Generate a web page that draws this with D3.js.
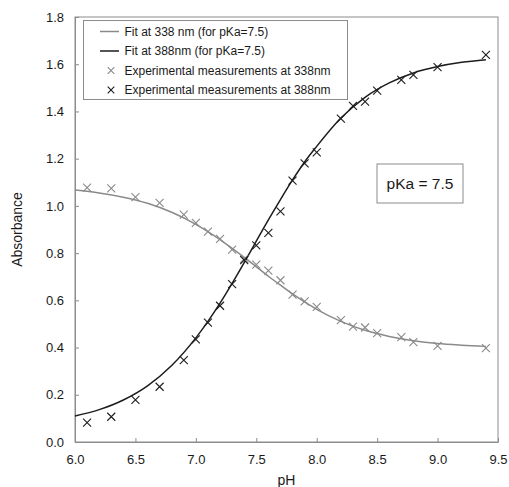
<!DOCTYPE html>
<html>
<head>
<meta charset="utf-8">
<script src="https://cdn.jsdelivr.net/npm/d3@7"></script>
<style>
  html, body { margin: 0; padding: 0; background: #fff; }
  svg { display: block; font-family: "Liberation Sans", Arial, sans-serif; }
</style>
</head>
<body>
<script>
// Measured absorbance vs pH
const phMeasured = [6.1, 6.3, 6.5, 6.7, 6.9, 7.0, 7.1, 7.2, 7.3, 7.4, 7.5, 7.6, 7.7, 7.8, 7.9, 8.0, 8.2, 8.3, 8.4, 8.5, 8.7, 8.8, 9.0, 9.4];
const abs338 = [1.077, 1.074, 1.037, 1.013, 0.963, 0.928, 0.891, 0.860, 0.815, 0.775, 0.751, 0.726, 0.685, 0.624, 0.596, 0.572, 0.516, 0.489, 0.485, 0.461, 0.444, 0.423, 0.407, 0.398];
const abs388 = [0.082, 0.107, 0.178, 0.234, 0.347, 0.435, 0.506, 0.577, 0.669, 0.770, 0.833, 0.886, 0.977, 1.107, 1.180, 1.227, 1.370, 1.424, 1.442, 1.488, 1.534, 1.555, 1.588, 1.640];

// Fitted titration curves (pKa = 7.5)
const phFit = [6.0, 6.2, 6.4, 6.6, 6.8, 7.0, 7.1, 7.2, 7.3, 7.4, 7.5, 7.6, 7.7, 7.8, 7.9, 8.0, 8.2, 8.4, 8.6, 8.8, 9.0, 9.2, 9.4];
const fit338 = [1.067, 1.055, 1.037, 1.011, 0.973, 0.922, 0.891, 0.857, 0.820, 0.782, 0.742, 0.702, 0.664, 0.627, 0.593, 0.562, 0.511, 0.473, 0.447, 0.429, 0.417, 0.410, 0.405];
const fit388 = [0.110, 0.137, 0.178, 0.238, 0.324, 0.441, 0.511, 0.588, 0.672, 0.760, 0.851, 0.941, 1.027, 1.110, 1.186, 1.252, 1.372, 1.460, 1.521, 1.563, 1.590, 1.608, 1.619];

const xTicks = [6.0, 6.5, 7.0, 7.5, 8.0, 8.5, 9.0, 9.5];
const yTicks = [0.0, 0.2, 0.4, 0.6, 0.8, 1.0, 1.2, 1.4, 1.6, 1.8];

const legendLabels = [
  "Fit at 338 nm (for pKa=7.5)",
  "Fit at 388nm (for pKa=7.5)",
  "Experimental measurements at 338nm",
  "Experimental measurements at 388nm"
];
const annotation = "pKa = 7.5";

const W = 509, H = 487;
const m = { left: 75, right: 11, top: 17, bottom: 45 };
const grey = "#8a8a8a", dark = "#1c1c1c", frame = "#8c8c8c";

const svg = d3.select("body").append("svg").attr("width", W).attr("height", H);

const x = d3.scaleLinear().domain([6.0, 9.5]).range([m.left, W - m.right]);
const y = d3.scaleLinear().domain([0, 1.8]).range([H - m.bottom, m.top]);

// plot frame
svg.append("rect")
  .attr("x", x(6.0)).attr("y", y(1.8))
  .attr("width", x(9.5) - x(6.0)).attr("height", y(0) - y(1.8))
  .attr("fill", "none").attr("stroke", frame).attr("stroke-width", 1);

// axes with inward ticks
const xAxis = svg.append("g")
  .attr("transform", `translate(0,${y(0)})`)
  .call(d3.axisBottom(x).tickValues(xTicks).tickFormat(d3.format(".1f")).tickSizeInner(-4).tickSizeOuter(0).tickPadding(13));
const yAxis = svg.append("g")
  .attr("transform", `translate(${x(6.0)},0)`)
  .call(d3.axisLeft(y).tickValues(yTicks).tickFormat(d3.format(".1f")).tickSizeInner(-4).tickSizeOuter(0).tickPadding(11));
[xAxis, yAxis].forEach(g => {
  g.select(".domain").attr("stroke", frame);
  g.selectAll(".tick line").attr("stroke", frame);
  g.selectAll(".tick text").attr("fill", "#1a1a1a")
    .style("font-family", '"Liberation Sans", Arial, sans-serif').style("font-size", "13px");
});

// axis titles
svg.append("text").attr("x", (x(6.0) + x(9.5)) / 2).attr("y", 485)
  .attr("text-anchor", "middle").attr("fill", "#1a1a1a").style("font-size", "14px").text("pH");
svg.append("text")
  .attr("transform", `translate(22,${(y(0) + y(1.8)) / 2}) rotate(-90)`)
  .attr("text-anchor", "middle").attr("fill", "#1a1a1a").style("font-size", "14px").text("Absorbance");

// fitted curves
const line = d3.line().x(d => x(d[0])).y(d => y(d[1])).curve(d3.curveMonotoneX);
svg.append("path").datum(phFit.map((p, i) => [p, fit338[i]]))
  .attr("d", line).attr("fill", "none").attr("stroke", grey).attr("stroke-width", 1.5);
svg.append("path").datum(phFit.map((p, i) => [p, fit388[i]]))
  .attr("d", line).attr("fill", "none").attr("stroke", dark).attr("stroke-width", 1.5);

// cross markers
const s = 4;
function cross(g, cx, cy, color) {
  g.append("path")
    .attr("d", `M${cx - s},${cy - s}L${cx + s},${cy + s}M${cx - s},${cy + s}L${cx + s},${cy - s}`)
    .attr("stroke", color).attr("stroke-width", 1.1).attr("fill", "none");
}
const pts = svg.append("g");
phMeasured.forEach((p, i) => cross(pts, x(p), y(abs338[i]), grey));
phMeasured.forEach((p, i) => cross(pts, x(p), y(abs388[i]), dark));

// legend
const lg = svg.append("g");
lg.append("rect").attr("x", 83.5).attr("y", 20.5).attr("width", 264).attr("height", 79)
  .attr("fill", "#fff").attr("stroke", frame);
const rowY = [31.5, 51, 70.5, 90];
legendLabels.forEach((t, i) => {
  const ry = rowY[i];
  const c = (i % 2 === 0) ? grey : dark;
  if (i < 2) {
    lg.append("line").attr("x1", 100).attr("x2", 119).attr("y1", ry).attr("y2", ry)
      .attr("stroke", c).attr("stroke-width", 1.5);
  } else {
    const s2 = 3.3;
    lg.append("path")
      .attr("d", `M${111 - s2},${ry - s2}L${111 + s2},${ry + s2}M${111 - s2},${ry + s2}L${111 + s2},${ry - s2}`)
      .attr("stroke", c).attr("stroke-width", 1.1);
  }
  lg.append("text").attr("x", 124.5).attr("y", ry).attr("dy", "0.35em")
    .attr("fill", "#1a1a1a").style("font-size", "12px").text(t);
});

// pKa annotation box
svg.append("rect").attr("x", 377).attr("y", 164).attr("width", 86).attr("height", 39)
  .attr("fill", "#fff").attr("stroke", frame);
svg.append("text").attr("x", 420).attr("y", 184).attr("dy", "0.35em").attr("text-anchor", "middle")
  .attr("fill", "#1a1a1a").style("font-size", "15.5px").text(annotation);
</script>
</body>
</html>
